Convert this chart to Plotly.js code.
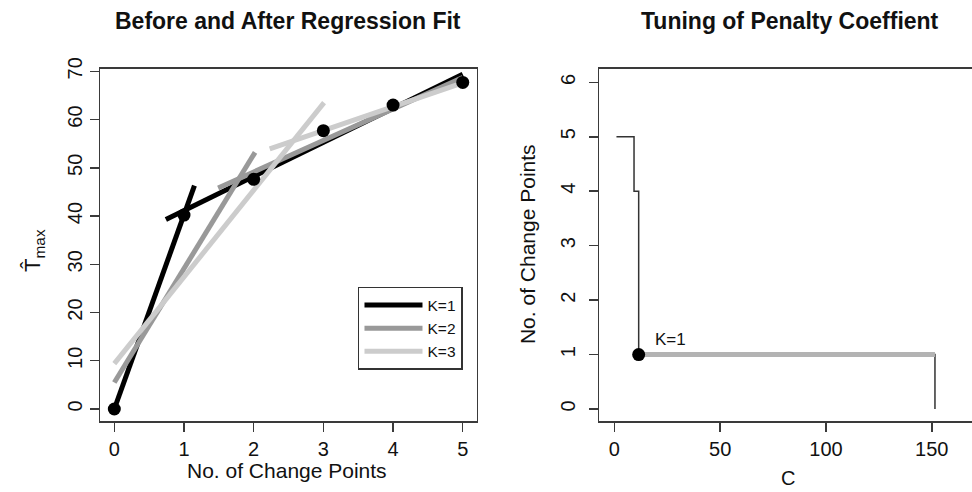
<!DOCTYPE html>
<html>
<head>
<meta charset="utf-8">
<script src="https://cdn.plot.ly/plotly-3.0.1.min.js"></script>
<style>html,body{margin:0;padding:0;background:#fff}#chart{width:972px;height:492px}</style>
</head>
<body>
<div id="chart"></div>
<script>
// ---- Left panel: observed T_max vs number of change points ----
const nChange = [0, 1, 2, 3, 4, 5];
const tMax = [0, 40.2, 47.6, 57.7, 63.0, 67.7];

// Piecewise regression fits (segments separated by null)
const k1X = [0, 1.15, null, 0.74, 5.0];
const k1Y = [0, 46.3, null, 39.3, 69.4];
const k2X = [0, 2.02, null, 1.49, 5.0];
const k2Y = [5.5, 53.2, null, 45.8, 68.7];
const k3X = [0, 3.01, null, 2.23, 5.0];
const k3Y = [9.4, 63.5, null, 53.9, 67.6];
const seriesNames = ["K=1", "K=2", "K=3"];

// ---- Right panel: tuning of penalty coefficient ----
const penaltyC = [1, 9.3, 11.5, 151.5];
const nCpAtC = [5, 4, 1, 0];
const selectedRangeC = [11.5, 151.5];
const selectedRangeK = [1, 1];
const chosenC = [11.5];
const chosenK = [1];
const chosenLabel = "K=1";

const FONT = "Liberation Sans, Arial, Helvetica, sans-serif";
const AX = "#3a3a3a";

const traces = [
  {x: k1X, y: k1Y, type: "scatter", mode: "lines", name: seriesNames[0],
   line: {color: "#000000", width: 5}, xaxis: "x", yaxis: "y", connectgaps: false},
  {x: k2X, y: k2Y, type: "scatter", mode: "lines", name: seriesNames[1],
   line: {color: "#999999", width: 5}, xaxis: "x", yaxis: "y", connectgaps: false},
  {x: k3X, y: k3Y, type: "scatter", mode: "lines", name: seriesNames[2],
   line: {color: "#cccccc", width: 5}, xaxis: "x", yaxis: "y", connectgaps: false},
  {x: nChange, y: tMax, type: "scatter", mode: "markers", showlegend: false,
   marker: {color: "#000000", size: 13}, xaxis: "x", yaxis: "y"},
  {x: penaltyC, y: nCpAtC, type: "scatter", mode: "lines", showlegend: false,
   line: {color: "#333333", width: 1.5, shape: "hv"}, xaxis: "x2", yaxis: "y2"},
  {x: selectedRangeC, y: selectedRangeK, type: "scatter", mode: "lines", showlegend: false,
   line: {color: "#b3b3b3", width: 5}, xaxis: "x2", yaxis: "y2"},
  {x: chosenC, y: chosenK, type: "scatter", mode: "markers", showlegend: false,
   marker: {color: "#000000", size: 13}, xaxis: "x2", yaxis: "y2"}
];

function axBase() {
  return {
    showgrid: false, zeroline: false, showline: true, linecolor: AX, linewidth: 1.5,
    ticks: "outside", ticklen: 9, tickwidth: 1.5, tickcolor: AX,
    tickfont: {family: FONT, size: 20, color: "#111"}
  };
}

const layout = {
  width: 972, height: 492,
  margin: {l: 0, r: 0, t: 0, b: 0},
  paper_bgcolor: "#ffffff", plot_bgcolor: "#ffffff",
  font: {family: FONT, color: "#111"},
  xaxis: Object.assign(axBase(), {domain: [0.1029, 0.4907], range: [-0.205, 5.204],
    tickvals: [0, 1, 2, 3, 4, 5], mirror: true, anchor: "y"}),
  yaxis: Object.assign(axBase(), {domain: [0.1443, 0.8598], range: [-2.49, 70.48],
    tickvals: [0, 10, 20, 30, 40, 50, 60, 70], tickangle: -90, mirror: true, anchor: "x"}),
  xaxis2: Object.assign(axBase(), {domain: [0.6163, 1.0], range: [-7.23, 169.0],
    tickvals: [0, 50, 100, 150], mirror: true, anchor: "y2"}),
  yaxis2: Object.assign(axBase(), {domain: [0.1443, 0.8598], range: [-0.22, 6.245],
    tickvals: [0, 1, 2, 3, 4, 5, 6], tickangle: -90, anchor: "x2", ticklabelstandoff: 6}),
  showlegend: true,
  legend: {x: 0.3683, y: 0.4167, xanchor: "left", yanchor: "top",
    bordercolor: "#333", borderwidth: 1.5, bgcolor: "#fff", itemwidth: 58,
    font: {family: FONT, size: 15.5, color: "#111"}, tracegroupgap: 0},
  annotations: [
    {text: "<b>Before and After Regression Fit</b>", xref: "paper", yref: "paper",
     x: 0.2963, y: 0.957, xanchor: "center", yanchor: "middle", showarrow: false,
     font: {family: FONT, size: 23, color: "#111"}},
    {text: "<b>Tuning of Penalty Coeffient</b>", xref: "paper", yref: "paper",
     x: 0.8123, y: 0.957, xanchor: "center", yanchor: "middle", showarrow: false,
     font: {family: FONT, size: 23, color: "#111"}},
    {text: "No. of Change Points", xref: "paper", yref: "paper",
     x: 0.2948, y: 0.043, xanchor: "center", yanchor: "middle", showarrow: false,
     font: {family: FONT, size: 21, color: "#111"}},
    {text: "C", xref: "paper", yref: "paper",
     x: 0.8107, y: 0.002, xanchor: "center", yanchor: "bottom", showarrow: false,
     font: {family: FONT, size: 20, color: "#111"}},
    {text: "T\u0302<sub>max</sub>", xref: "paper", yref: "paper", textangle: -90,
     x: 0.035, y: 0.49, xanchor: "center", yanchor: "middle", showarrow: false,
     font: {family: FONT, size: 22, color: "#111"}},
    {text: "No. of Change Points", xref: "paper", yref: "paper", textangle: -90,
     x: 0.5422, y: 0.504, xanchor: "center", yanchor: "middle", showarrow: false,
     font: {family: FONT, size: 21, color: "#111"}},
    {text: chosenLabel, xref: "x2", yref: "y2", x: 18.5, y: 1.28,
     xanchor: "left", yanchor: "middle", showarrow: false,
     font: {family: FONT, size: 17, color: "#111"}}
  ]
};

Plotly.newPlot("chart", traces, layout, {displayModeBar: false, staticPlot: true});
</script>
</body>
</html>
